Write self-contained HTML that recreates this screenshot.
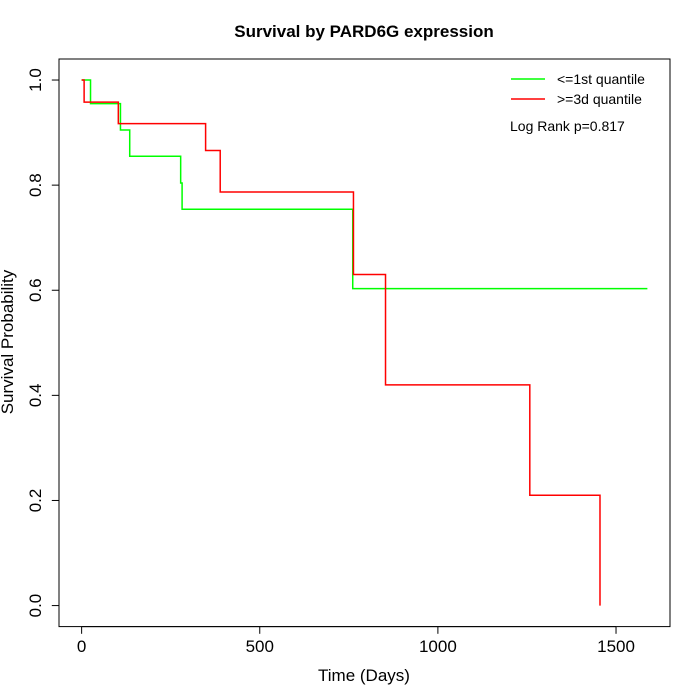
<!DOCTYPE html>
<html><head><meta charset="utf-8"><style>
body{margin:0;background:#fff}
svg{display:block;font-family:"Liberation Sans",sans-serif}
</style></head><body>
<svg id="chart" width="700" height="700">
<text x="364" y="37" text-anchor="middle" font-size="17" font-weight="bold">Survival by PARD6G expression</text>
<rect x="59" y="59" width="611" height="567.6" fill="none" stroke="#000" stroke-width="1"/>
<g id="xaxis"></g>
<g id="yaxis"></g>
<text x="364" y="681" text-anchor="middle" font-size="17">Time (Days)</text>
<text transform="translate(13,342) rotate(-90)" text-anchor="middle" font-size="17">Survival Probability</text>
<g id="series"></g>
<g>
<line x1="511" y1="79" x2="545" y2="79" stroke="#00ff00" stroke-width="1.5"/>
<text x="557" y="84" font-size="14">&lt;=1st quantile</text>
<line x1="511" y1="99" x2="545" y2="99" stroke="#ff0000" stroke-width="1.5"/>
<text x="557" y="104" font-size="14">&gt;=3d quantile</text>
<text x="510" y="131" font-size="14">Log Rank p=0.817</text>
</g>
</svg>
<script>
const xTicks=[0,500,1000,1500];
const yTicks=[0,0.2,0.4,0.6,0.8,1.0];
const yTickLabels=["0.0","0.2","0.4","0.6","0.8","1.0"];
const lowTimes=[0,25,109,135,278,282,761,1588];
const lowSurv=[1,0.955,0.905,0.855,0.804,0.754,0.603,0.603];
const highTimes=[0,7,103,348,389,763,853,1258,1455];
const highSurv=[1,0.958,0.917,0.866,0.787,0.63,0.42,0.21,0];
const NS="http://www.w3.org/2000/svg";
const xs=t=>59+(t+63.5)*611/1715;
const ys=v=>626.6-(v+0.04)*567.6/1.08;
const xa=document.getElementById('xaxis'),ya=document.getElementById('yaxis');
function mk(tag,attrs,parent){const e=document.createElementNS(NS,tag);for(const k in attrs)e.setAttribute(k,attrs[k]);parent.appendChild(e);return e;}
mk('line',{x1:xs(xTicks[0]),x2:xs(xTicks[xTicks.length-1]),y1:626.6,y2:626.6,stroke:'#000'},xa);
xTicks.forEach(t=>{
 const l=mk('line',{x1:xs(t),x2:xs(t),y1:626.6,y2:633.8,stroke:'#000'},xa);
 
 
 const tx=mk('text',{x:xs(t),y:652,'text-anchor':'middle','font-size':'17'},xa);
 tx.textContent=t;
 
 
});
mk('line',{x1:59,x2:59,y1:ys(yTicks[0]),y2:ys(yTicks[yTicks.length-1]),stroke:'#000'},ya);
yTicks.forEach((v,i)=>{
 const l=mk('line',{x1:51.8,x2:59,y1:ys(v),y2:ys(v),stroke:'#000'},ya);
 
 
 const tx=mk('text',{transform:`translate(41,${ys(v)}) rotate(-90)`,'text-anchor':'middle','font-size':'17'},ya);
 tx.textContent=yTickLabels[i];
 
 
});
function stepPath(ts,ss){let d=`M${xs(ts[0])},${ys(ss[0])}`;for(let i=1;i<ts.length;i++){d+=`H${xs(ts[i])}V${ys(ss[i])}`;}return d;}
const g=document.getElementById('series');
const p1=mk('path',{d:stepPath(lowTimes,lowSurv),fill:'none',stroke:'#00ff00','stroke-width':'1.5'},g);


const p2=mk('path',{d:stepPath(highTimes,highSurv),fill:'none',stroke:'#ff0000','stroke-width':'1.5'},g);


</script>
</body></html>
